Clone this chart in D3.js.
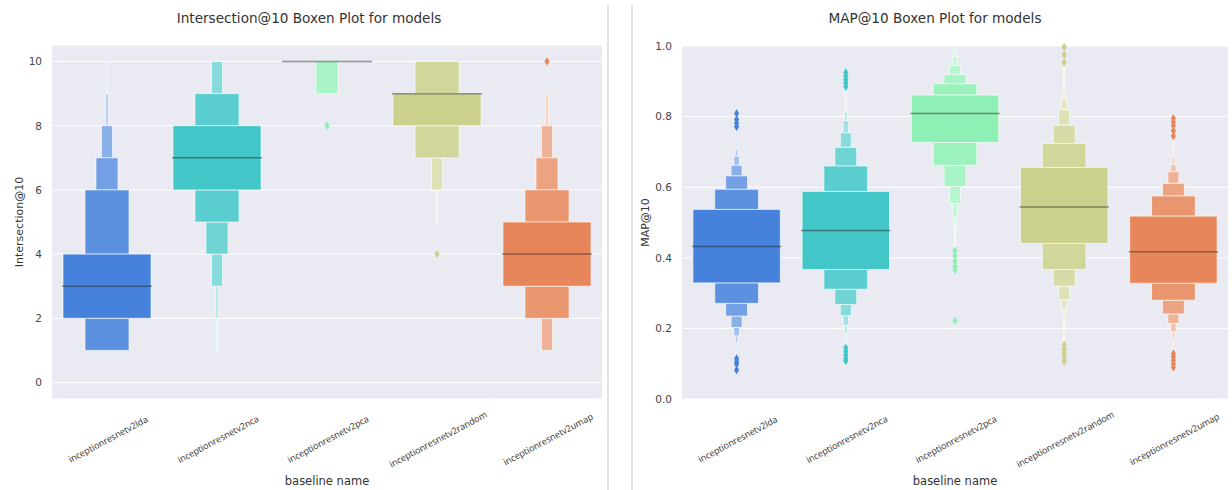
<!DOCTYPE html>
<html><head><meta charset="utf-8">
<script src="https://cdn.jsdelivr.net/npm/d3@7"></script>
<style>body{margin:0;background:#fff}svg{display:block}</style>
</head><body><svg id="c" width="1232" height="490"></svg>
<script>
// ---------- data ----------
const categories = ["inceptionresnetv2lda","inceptionresnetv2nca","inceptionresnetv2pca","inceptionresnetv2random","inceptionresnetv2umap"];
const baseColors = ["#4682dc","#42c6c8","#8ef0b4","#cbd08c","#e6865a"];

// Intersection@10 letter values (level 0 = quartiles, outward)
const interMedian = [3, 7, 10, 9, 4];
const interLower = [[2,1,1,1,1,1,1],[6,5,4,3,3,2,1],[10,10,9],[8,7,7,6,6,6,5],[3,2,2,1,1,1]];
const interUpper = [[4,6,7,8,8,9,10],[8,9,9,10,10,10,10],[10,10,10],[9,10,10,10,10,10,10],[5,6,7,8,8,9]];
const interOutliers = [[],[],[8],[4],[10]];
const interTicks = [0,2,4,6,8,10];

// MAP@10 letter values
const mapMedian = [0.432, 0.477, 0.809, 0.544, 0.417];
const mapLower = [
  [0.329,0.271,0.235,0.203,0.179,0.161,0.122],
  [0.367,0.311,0.268,0.236,0.209,0.186,0.153],
  [0.727,0.662,0.602,0.554,0.516,0.493,0.431],
  [0.441,0.367,0.320,0.282,0.252,0.229,0.162],
  [0.328,0.280,0.241,0.214,0.191,0.172,0.139]];
const mapUpper = [
  [0.537,0.594,0.632,0.662,0.688,0.707,0.757],
  [0.588,0.660,0.713,0.754,0.788,0.813,0.870],
  [0.861,0.893,0.919,0.945,0.970,1.0,1.0],
  [0.656,0.724,0.776,0.819,0.851,0.875,0.941],
  [0.518,0.575,0.611,0.644,0.663,0.686,0.734]];
const mapOutliers = [
  [0.809,0.792,0.781,0.771,0.115,0.106,0.099,0.082],
  [0.925,0.915,0.905,0.895,0.885,0.145,0.135,0.125,0.115,0.108],
  [0.42,0.405,0.39,0.375,0.365,0.222],
  [0.997,0.975,0.953,0.153,0.14,0.13,0.12,0.106],
  [0.795,0.785,0.775,0.76,0.745,0.128,0.12,0.11,0.10,0.09]];
const mapTicks = [0,0.2,0.4,0.6,0.8,1.0];

// ---------- drawing ----------
const svg = d3.select("#c");
const FONT = "'DejaVu Sans', sans-serif";
const LFONT = "'Open Sans', sans-serif";
const NLEV = 7;

// panel separators
[608, 632].forEach(x => svg.append("line").attr("x1",x).attr("x2",x).attr("y1",5).attr("y2",490)
  .attr("stroke","#d0d0d0").attr("stroke-width",1.2));

function panel(c){
  const g = svg.append("g");
  const x = d3.scaleBand().domain(categories).range([c.x0,c.x1]);
  const y = d3.scaleLinear().domain(c.yDomain).range([c.y1,c.y0]);
  g.append("rect").attr("x",c.x0).attr("y",c.y0).attr("width",c.x1-c.x0).attr("height",c.y1-c.y0).attr("fill","#eaeaf2");
  // grid
  g.append("g").selectAll("line").data(c.ticks).join("line")
    .attr("x1",c.x0).attr("x2",c.x1).attr("y1",d=>y(d)).attr("y2",d=>y(d))
    .attr("stroke","#fff").attr("stroke-width",1);
  // y axis
  const ax = g.append("g").attr("transform",`translate(${c.x0},0)`)
    .call(d3.axisLeft(y).tickValues(c.ticks).tickSize(0).tickPadding(10).tickFormat(c.fmt));
  ax.select(".domain").remove();
  ax.selectAll("text").attr("font-family",FONT).attr("font-size",10.5).attr("fill","#444");
  const w0 = x.bandwidth()*0.8;
  categories.forEach((cat,ci)=>{
    const cx = x(cat)+x.bandwidth()/2;
    const lo = c.lower[ci], up = c.upper[ci];
    const base = baseColors[ci];
    const boxes = [];
    for(let i=lo.length-1;i>=1;i--){
      const w = w0*Math.pow(0.5,i);
      const col = d3.interpolateRgb(base,"#ffffff")(0.85*i/NLEV);
      boxes.push({a:lo[i],b:lo[i-1],w,col});
      boxes.push({a:up[i-1],b:up[i],w,col});
    }
    boxes.push({a:lo[0],b:up[0],w:w0,col:base});
    g.append("g").selectAll("rect").data(boxes.filter(d=>d.b>d.a)).join("rect")
      .attr("x",d=>cx-d.w/2).attr("width",d=>d.w)
      .attr("y",d=>y(d.b)).attr("height",d=>y(d.a)-y(d.b))
      .attr("fill",d=>d.col).attr("stroke","rgba(255,255,255,0.6)").attr("stroke-width",1);
    // median
    g.append("line").attr("x1",cx-w0/2-1).attr("x2",cx+w0/2+1)
      .attr("y1",y(c.median[ci])).attr("y2",y(c.median[ci]))
      .attr("stroke","rgba(40,40,40,0.48)").attr("stroke-width",1.5);
    // outliers
    g.append("g").selectAll("path").data(c.outliers[ci]).join("path")
      .attr("d","M0,-4.2L2.6,0L0,4.2L-2.6,0Z")
      .attr("transform",d=>`translate(${cx},${y(d)})`)
      .attr("fill",base);
  });
  // x tick labels (centered under each category)
  g.append("g").selectAll("text").data(categories).join("text")
    .attr("transform",d=>`translate(${x(d)+x.bandwidth()/2+1},439) rotate(-28)`)
    .attr("text-anchor","middle").attr("dominant-baseline","central")
    .attr("font-family",LFONT).attr("font-size",9).attr("fill","#333").text(d=>d);
  // x axis label
  g.append("text").attr("x",(c.x0+c.x1)/2).attr("y",485)
    .attr("text-anchor","middle").attr("font-family",FONT).attr("font-size",11.5).attr("fill","#333")
    .text("baseline name");
  // y label
  g.append("text").attr("transform",`translate(${c.ylx},${(c.y0+c.y1)/2}) rotate(-90)`)
    .attr("text-anchor","middle").attr("dominant-baseline","central")
    .attr("font-family",FONT).attr("font-size",11).attr("fill","#333").text(c.ylabel);
  // title
  g.append("text").attr("x",c.titleX).attr("y",23).attr("text-anchor","middle")
    .attr("font-family",FONT).attr("font-size",13.6).attr("fill","#333").text(c.title);
}

panel({x0:52,x1:602,y0:45.5,y1:398.5,yDomain:[-0.5,10.5],ticks:interTicks,fmt:d3.format("d"),
  lower:interLower,upper:interUpper,median:interMedian,outliers:interOutliers,
  ylabel:"Intersection@10",ylx:19,title:"Intersection@10 Boxen Plot for models",titleX:309});
panel({x0:682,x1:1228,y0:46,y1:399,yDomain:[0,1],ticks:mapTicks,fmt:d3.format(".1f"),
  lower:mapLower,upper:mapUpper,median:mapMedian,outliers:mapOutliers,
  ylabel:"MAP@10",ylx:645,title:"MAP@10 Boxen Plot for models",titleX:935});
</script></body></html>
